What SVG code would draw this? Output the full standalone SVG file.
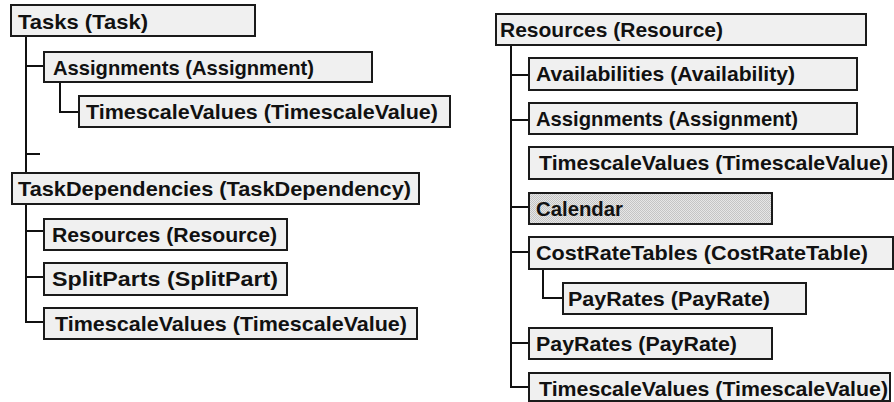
<svg xmlns="http://www.w3.org/2000/svg" width="894" height="402" viewBox="0 0 894 402">
  <defs>
    <pattern id="dither" width="2" height="2" patternUnits="userSpaceOnUse">
      <rect width="2" height="2" fill="#e6e6e6"/>
      <rect width="1" height="1" fill="#c4c4c4"/>
      <rect x="1" y="1" width="1" height="1" fill="#c4c4c4"/>
    </pattern>
  </defs>
  <style>
    .box { fill: #f0f0f0; stroke: #1a1a1a; stroke-width: 2; }
    .hatched { fill: url(#dither); stroke: #1a1a1a; stroke-width: 2; }
    .lbl { font-family: "Liberation Sans", Arial, sans-serif; font-weight: bold; font-size: 21px; fill: #111; }
    .tree { fill: none; stroke: #111; stroke-width: 2; }
  </style>
  <rect width="894" height="402" fill="#ffffff"/>

  <!-- tree lines -->
  <g id="connectors" class="tree">
    <!-- Tasks -->
    <path d="M26 36 V173 M26 66 H44 M26 154 H40"/>
    <path d="M60 83 V112 H79"/>
    <!-- TaskDependencies -->
    <path d="M26 204 V322 H44 M26 231 H44 M26 277 H44"/>
    <!-- Resources (right) -->
    <path d="M511 45 V387 H529 M511 75 H529 M511 120 H529 M511 207 H529 M511 252 H529 M511 343 H529"/>
    <path d="M543 269 V298 H563"/>
  </g>

  <!-- left column -->
  <g id="tasks">
    <rect class="box" x="11" y="5" width="244" height="31"/>
    <text class="lbl" x="18" y="29" textLength="130" lengthAdjust="spacingAndGlyphs">Tasks (Task)</text>
  </g>
  <g id="tasks-assignments">
    <rect class="box" x="44" y="52" width="328" height="30"/>
    <text class="lbl" x="53" y="75" textLength="261" lengthAdjust="spacingAndGlyphs">Assignments (Assignment)</text>
  </g>
  <g id="tasks-assignments-timescalevalues">
    <rect class="box" x="79" y="96" width="371" height="31"/>
    <text class="lbl" x="86" y="119" textLength="352" lengthAdjust="spacingAndGlyphs">TimescaleValues (TimescaleValue)</text>
  </g>
  <g id="taskdependencies">
    <rect class="box" x="12" y="173" width="407" height="31"/>
    <text class="lbl" x="18" y="196" textLength="393" lengthAdjust="spacingAndGlyphs">TaskDependencies (TaskDependency)</text>
  </g>
  <g id="taskdependencies-resources">
    <rect class="box" x="44" y="219" width="243" height="31"/>
    <text class="lbl" x="52" y="242" textLength="225" lengthAdjust="spacingAndGlyphs">Resources (Resource)</text>
  </g>
  <g id="taskdependencies-splitparts">
    <rect class="box" x="44" y="263" width="243" height="32"/>
    <text class="lbl" x="52" y="286" textLength="226" lengthAdjust="spacingAndGlyphs">SplitParts (SplitPart)</text>
  </g>
  <g id="taskdependencies-timescalevalues">
    <rect class="box" x="44" y="308" width="373" height="31"/>
    <text class="lbl" x="55" y="331" textLength="352" lengthAdjust="spacingAndGlyphs">TimescaleValues (TimescaleValue)</text>
  </g>

  <!-- right column -->
  <g id="resources">
    <rect class="box" x="496" y="14" width="370" height="31"/>
    <text class="lbl" x="500" y="37" textLength="223" lengthAdjust="spacingAndGlyphs">Resources (Resource)</text>
  </g>
  <g id="resources-availabilities">
    <rect class="box" x="529" y="58" width="328" height="32"/>
    <text class="lbl" x="536" y="81" textLength="259" lengthAdjust="spacingAndGlyphs">Availabilities (Availability)</text>
  </g>
  <g id="resources-assignments">
    <rect class="box" x="529" y="103" width="328" height="31"/>
    <text class="lbl" x="536" y="126" textLength="262" lengthAdjust="spacingAndGlyphs">Assignments (Assignment)</text>
  </g>
  <g id="resources-timescalevalues">
    <rect class="box" x="529" y="147" width="364" height="32"/>
    <text class="lbl" x="539" y="170" textLength="349" lengthAdjust="spacingAndGlyphs">TimescaleValues (TimescaleValue)</text>
  </g>
  <g id="resources-calendar">
    <rect class="hatched" x="529" y="193" width="243" height="31"/>
    <text class="lbl" x="536" y="216" textLength="87" lengthAdjust="spacingAndGlyphs">Calendar</text>
  </g>
  <g id="resources-costratetables">
    <rect class="box" x="529" y="237" width="364" height="32"/>
    <text class="lbl" x="536" y="260" textLength="332" lengthAdjust="spacingAndGlyphs">CostRateTables (CostRateTable)</text>
  </g>
  <g id="resources-costratetables-payrates">
    <rect class="box" x="563" y="283" width="243" height="31"/>
    <text class="lbl" x="568" y="306" textLength="202" lengthAdjust="spacingAndGlyphs">PayRates (PayRate)</text>
  </g>
  <g id="resources-payrates">
    <rect class="box" x="529" y="328" width="243" height="31"/>
    <text class="lbl" x="536" y="351" textLength="201" lengthAdjust="spacingAndGlyphs">PayRates (PayRate)</text>
  </g>
  <g id="resources-timescalevalues-2">
    <rect class="box" x="529" y="373" width="361" height="28"/>
    <text class="lbl" x="539" y="396" textLength="349" lengthAdjust="spacingAndGlyphs">TimescaleValues (TimescaleValue)</text>
  </g>
</svg>
